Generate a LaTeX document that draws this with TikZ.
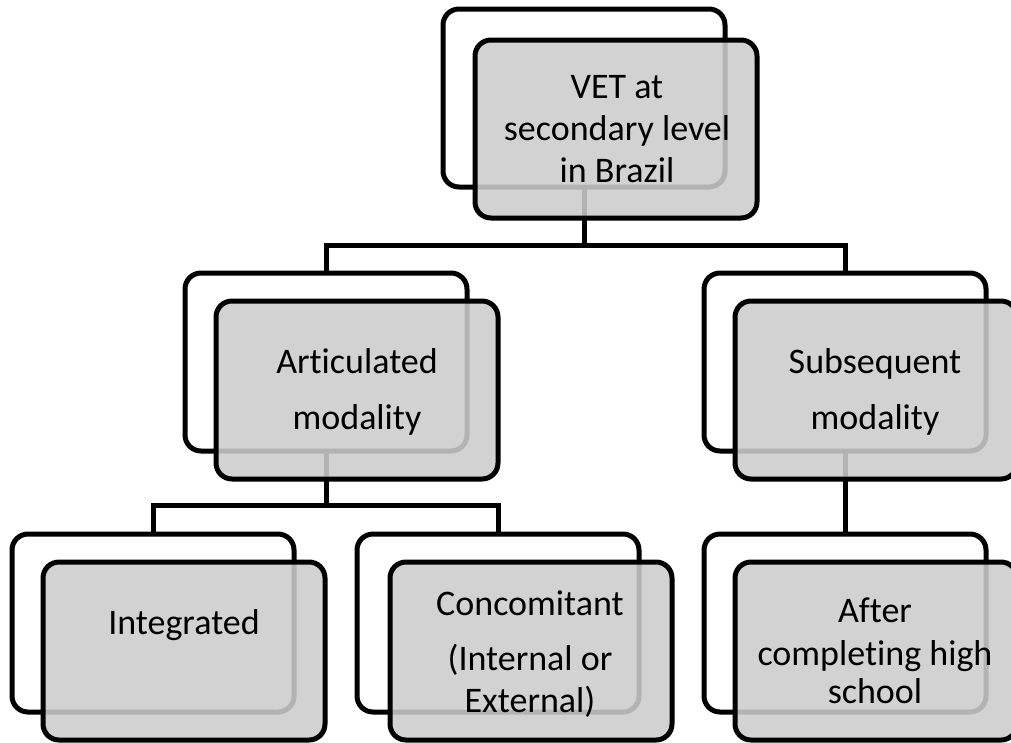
\documentclass[tikz,border=0pt]{standalone}
\usepackage{fontspec}
\setmainfont{Carlito}[Ligatures={NoCommon}]
\definecolor{boxgray}{gray}{0.8}
\tikzset{
  backbox/.style={draw=black, fill=white, line width=5pt, rounded corners=16pt,
    minimum width=282pt, minimum height=178pt, inner sep=0pt, outer sep=0pt},
  frontbox/.style={draw=black, fill=boxgray, fill opacity=0.88, line width=5pt,
    rounded corners=16pt, minimum width=282pt, minimum height=178pt,
    inner sep=0pt, outer sep=0pt},
  conn/.style={draw=black, line width=5pt},
  lbl/.style={anchor=base, inner sep=0pt, font=\fontsize{36}{42}\selectfont}
}
\begin{document}
\begin{tikzpicture}[x=1pt, y=-1pt]
\useasboundingbox (0,0) rectangle (1011,742);

% back (white) frames
\node[backbox] (w1) at (584,98) {};
\node[backbox] (w2) at (326,362) {};
\node[backbox] (w3) at (845,362) {};
\node[backbox] (w4) at (153,623) {};
\node[backbox] (w5) at (498,623) {};
\node[backbox] (w6) at (845,623) {};

% tree connectors
\coordinate (j1) at (584,245);
\coordinate (j2) at (326,505);
\draw[conn] (w1.south) -- (j1) -| (w2.north);
\draw[conn] (j1) -| (w3.north);
\draw[conn] (w2.south) -- (j2) -| (w4.north);
\draw[conn] (j2) -| (w5.north);
\draw[conn] (w3.south) -- (w6.north);

% front (grey, translucent) boxes
\node[frontbox] (g1) at (616,129) {};
\node[frontbox] (g2) at (357,390) {};
\node[frontbox] (g3) at (876,390) {};
\node[frontbox] (g4) at (184,651) {};
\node[frontbox] (g5) at (531,651) {};
\node[frontbox] (g6) at (876,651) {};

% labels
\node[lbl] (t1a) at (617,98) {VET at};
\node[lbl] (t1b) at (617,140) {secondary level};
\node[lbl] (t1c) at (617,182) {in Brazil};

\node[lbl] (t2a) at (357,373) {Articulated};
\node[lbl] (t2b) at (357,429) {modality};

\node[lbl] (t3a) at (875,373) {Subsequent};
\node[lbl] (t3b) at (875,429) {modality};

\node[lbl] (t4a) at (184,634) {Integrated};

\node[lbl] (t5a) at (530,615) {Concomitant};
\node[lbl] (t5b) at (530,670) {(Internal or};
\node[lbl] (t5c) at (530,712) {External)};

\node[lbl] (t6a) at (875,622) {After};
\node[lbl] (t6b) at (875,665) {completing high};
\node[lbl] (t6c) at (875,703) {school};
\end{tikzpicture}
\end{document}
